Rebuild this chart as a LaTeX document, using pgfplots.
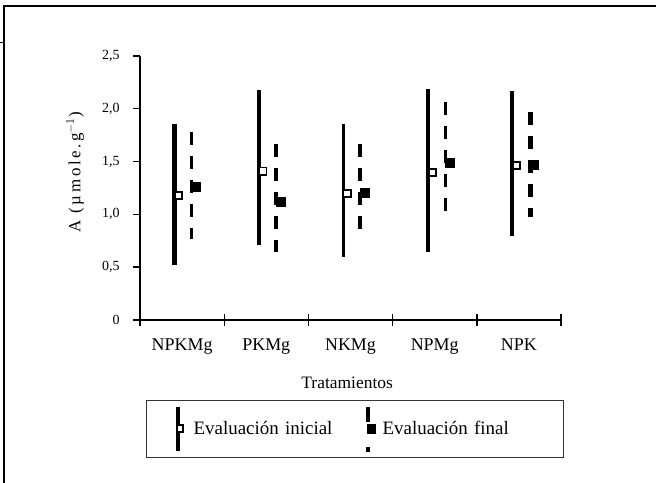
\documentclass[border=0pt]{standalone}
\usepackage{fontspec}
\setmainfont{Liberation Serif}
\usepackage{pgfplots}
\pgfplotsset{compat=1.18}
\begin{document}
\begin{tikzpicture}[x=1bp,y=1bp]
\path[use as bounding box] (0,0) rectangle (656,483);
\draw[line width=2bp] (656,477) -- (4,477) -- (4,0);
\draw[line width=1bp] (0,440.3) -- (3,440.3);
\begin{axis}[
  at={(140bp,163bp)}, anchor=south west,
  scale only axis, width=421bp, height=264bp,
  xmin=0, xmax=5, ymin=0, ymax=2.5,
  axis lines=left,
  axis line style={-, line width=1.4bp},
  every tick/.style={line width=1.4bp, black},
  major tick length=7bp,
  ytick={0,0.5,1,1.5,2,2.5},
  yticklabels={0,{0,5},{1,0},{1,5},{2,0},{2,5}},
  ytick align=outside,
  yticklabel style={font=\fontsize{14}{16}\selectfont, xshift=-10bp},
  xtick={0.5,1.5,2.5,3.5,4.5},
  xticklabels={NPKMg,PKMg,NKMg,NPMg,NPK},
  xtick style={draw=none},
  xticklabel style={font=\fontsize{18}{20}\selectfont, yshift=-12bp},
  extra x ticks={0,1,2,3,4,5},
  extra x tick labels={},
  extra x tick style={major tick length=12bp, tick align=center, xtick style={draw=black}},
  xlabel={Tratamientos},
  xlabel style={font=\fontsize{17.5}{20}\selectfont, at={(axis description cs:0.492,-0.239)}, anchor=center},
  ylabel={A (µmole.g$^{-1}$)},
  ylabel style={font=\fontsize{17}{18}\selectfont\addfontfeatures{LetterSpace=15}, at={(axis description cs:-0.154,0.56)}, anchor=center},
  legend columns=2,
  legend style={at={(axis description cs:0.0143,-0.303)}, anchor=north west,
    draw=black!80, line width=1.3bp, font=\fontsize{19}{22}\selectfont,
    inner xsep=29bp, inner ysep=4bp,
    nodes={text width=150bp},
    /tikz/every even column/.append style={column sep=20bp}},
  legend cell align=left,
]
% Evaluacion inicial: vertical ranges
\addplot[forget plot, line width=4.2bp] coordinates {(0.41,1.86) (0.41,0.52)};
\addplot[forget plot, line width=4.2bp] coordinates {(1.41,2.18) (1.41,0.71)};
\addplot[forget plot, line width=2.6bp] coordinates {(2.415,1.86) (2.415,0.60)};
\addplot[forget plot, line width=4.4bp] coordinates {(3.42,2.19) (3.42,0.64)};
\addplot[forget plot, line width=4.6bp] coordinates {(4.42,2.17) (4.42,0.80)};
% Evaluacion final: dashed vertical ranges
\addplot[forget plot, line width=3.3bp, dash pattern=on 13bp off 11bp] coordinates {(0.615,1.78) (0.615,0.77)};
\addplot[forget plot, line width=4.6bp, dash pattern=on 13bp off 11bp] coordinates {(1.615,1.67) (1.615,0.64)};
\addplot[forget plot, line width=4.6bp, dash pattern=on 13bp off 11bp] coordinates {(2.613,1.67) (2.613,0.85)};
\addplot[forget plot, line width=3.1bp, dash pattern=on 13bp off 11bp] coordinates {(3.626,2.06) (3.626,1.02)};
\addplot[forget plot, line width=4.9bp, dash pattern=on 13bp off 11bp] coordinates {(4.635,1.97) (4.635,0.98)};
% means
\addplot[forget plot, only marks, mark=square*, mark size=3.6bp,
  mark options={fill=white, draw=black, line width=1.9bp}]
  coordinates {(0.46,1.18) (1.46,1.41) (2.46,1.20) (3.47,1.40) (4.47,1.46)};
\addplot[forget plot, only marks, mark=square*, mark size=4.5bp,
  mark options={fill=black, draw=black}]
  coordinates {(0.665,1.26) (1.665,1.12) (2.665,1.21) (3.675,1.49) (4.67,1.47)};
\addlegendimage{legend image code/.code={
  \path[draw=none, fill=none] (-2bp,0bp) -- (14bp,0bp);
  \draw[black, line width=4bp] (0bp,22bp) -- (0bp,-22bp);
  \draw[black, line width=1.8bp, fill=white] (-0.5bp,-3.4bp) rectangle (5.5bp,3.4bp);}}
\addlegendentry{Evaluación inicial}
\addlegendimage{legend image code/.code={
  \path[draw=none, fill=none] (-2bp,0bp) -- (13bp,0bp);
  \draw[black, line width=4bp, dash pattern=on 15bp off 25bp] (0bp,22bp) -- (0bp,-23bp);
  \draw[black, fill=black] (0bp,-4.3bp) rectangle (8bp,4.3bp);}}
\addlegendentry{Evaluación final}
\end{axis}
\end{tikzpicture}
\end{document}
